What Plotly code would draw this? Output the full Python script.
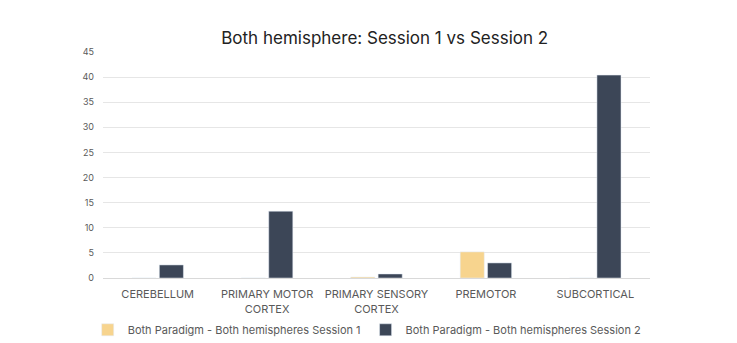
import plotly.graph_objects as go

categories = ["CEREBELLUM", "PRIMARY MOTOR<br>CORTEX", "PRIMARY SENSORY<br>CORTEX", "PREMOTOR", "SUBCORTICAL"]
session1 = [0, 0, 0.2, 5.2, 0]
session2 = [2.6, 13.3, 0.8, 3.0, 40.4]
y_ticks = list(range(0, 50, 5))

font_family = "Inter, Open Sans, sans-serif"

fig = go.Figure()
fig.add_trace(go.Bar(
    x=categories, y=session1,
    name="Both Paradigm - Both hemispheres Session 1",
    marker_color="#F7D48E",
))
fig.add_trace(go.Bar(
    x=categories, y=session2,
    name="Both Paradigm - Both hemispheres Session 2",
    marker_color="#3C4657",
))

fig.update_layout(
    width=737, height=343,
    paper_bgcolor="white", plot_bgcolor="white",
    margin=dict(l=103, r=87, t=52, b=65, autoexpand=False),
    barmode="group", bargap=0.5, bargroupgap=0.12,
    title=dict(text="Both hemisphere: Session 1 vs Session 2",
               xref="paper", x=0.515, xanchor="center", y=0.89, yanchor="middle",
               font=dict(family=font_family, size=17, color="#222222")),
    font=dict(family=font_family, size=11, color="#595959"),
    legend=dict(orientation="h", x=-0.028, xanchor="left", y=-0.165, yanchor="top",
                font=dict(size=11, color="#595959"), itemwidth=30,
                traceorder="normal", tracegroupgap=0),
    xaxis=dict(showgrid=False, showline=True, linecolor="#d9d9d9",
               tickfont=dict(size=11, color="#595959"), ticks="",
               ticklabelstandoff=6),
    yaxis=dict(range=[0, 45], tickvals=y_ticks, showgrid=True, gridcolor="#e6e6e6",
               zeroline=False, tickfont=dict(size=9, color="#595959"), ticks="",
               ticklabelstandoff=8),
)

fig.write_html("out.html")
